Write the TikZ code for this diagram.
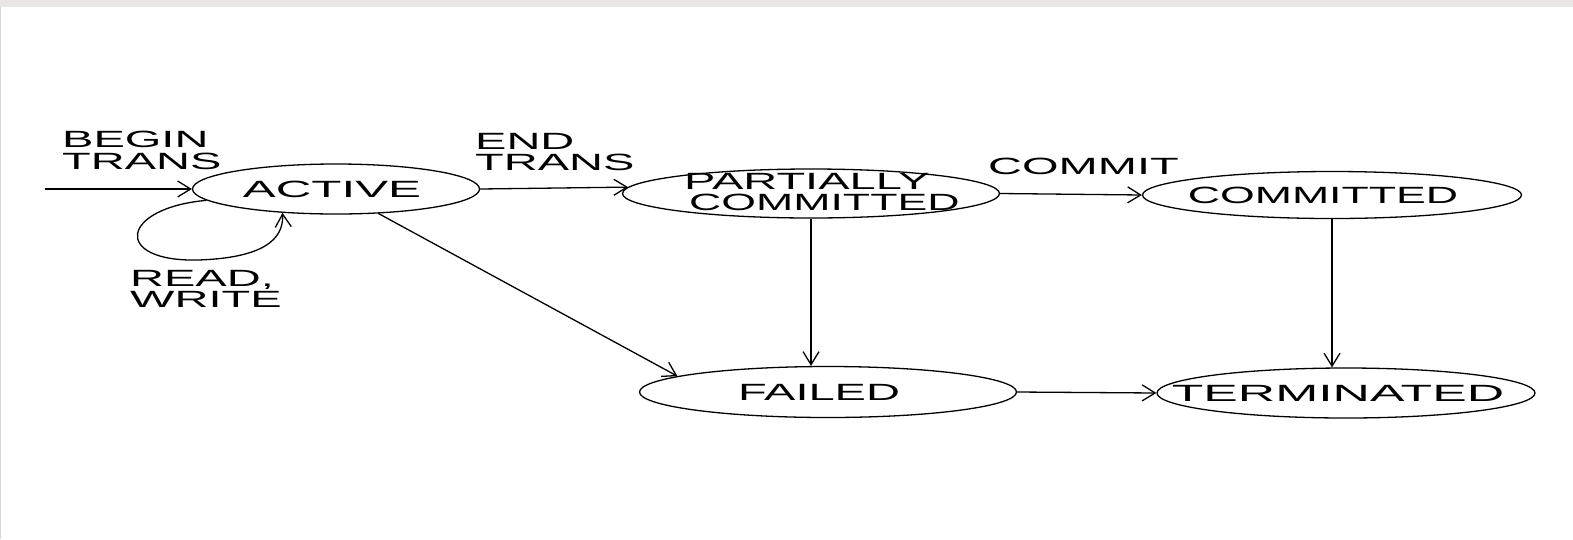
\documentclass[tikz,border=0pt]{standalone}
\usepackage{fontspec}
\newfontfamily\df[FakeStretch=2.0]{Liberation Sans}
\usetikzlibrary{arrows.meta,shapes.geometric}
\definecolor{band}{HTML}{EBE6E1}
\begin{document}
\begin{tikzpicture}[x=1pt,y=-1pt,
  st/.style={draw,ellipse,line width=1.3pt,inner sep=0pt},
  txt/.style={inner sep=0pt,font=\df\fontsize{23.5}{21.5}\selectfont},
  lbl/.style={inner sep=0pt,anchor=north west,align=left,font=\df\fontsize{23.5}{21.5}\selectfont},
  conn/.style={line width=1.3pt,-{Straight Barb[length=13pt,width=16pt,line width=1.3pt]}}]
\useasboundingbox (0,0) rectangle (1573,539);
\fill[band] (0,0) rectangle (1573,7);
\draw[black!15,line width=1pt] (0.5,7) -- (0.5,539);
% states
\node[st,minimum width=287pt,minimum height=50pt] (active) at (336,189) {};
\node[st,minimum width=377pt,minimum height=49pt] (partial) at (811,193.5) {};
\node[st,minimum width=379pt,minimum height=47pt] (committed) at (1332,195) {};
\node[st,minimum width=377pt,minimum height=51pt] (failed) at (828,392) {};
\node[st,minimum width=378pt,minimum height=50pt] (terminated) at (1346,393) {};
% state texts
\node[txt] (tactive) at (332,189) {\scalebox{1.05}[1]{ACTIVE}};
\node[lbl] (tpartial) at (684,173) {PARTIALLY\\\hspace{5pt}\scalebox{0.95}[1]{COMMITTED}};
\node[txt] (tcommitted) at (1323,195) {\scalebox{0.95}[1]{COMMITTED}};
\node[txt] (tfailed) at (819,392) {FAILED};
\node[txt] (tterminated) at (1338,393) {\scalebox{1.1}[1]{TERMINATED}};
% labels
\node[lbl] (lbegin) at (62,131) {BEGIN\\TRANS};
\node[lbl] (lend) at (475,133) {END\\TRANS};
\node[lbl] (lread) at (130,270) {READ,\\WRITE};
\node[lbl] (lcommit) at (988,158) {COMMIT};
% connectors
\coordinate (start) at (45,189);
\draw[conn] (start) -- (active.west);
\draw[conn] (active.185) .. controls (120,208) and (112,262) .. (198,260)
  .. controls (262,258) and (284,240) .. (active.204);
\draw[conn] (active.east) -- (partial.178.6);
\draw[conn] (partial.east) -- (committed.west);
\draw[conn] (partial.south) -- (partial.south |- failed.north);
\draw[conn] (committed.south) -- (committed.south |- terminated.north);
\draw[conn] (active.330) -- (failed.174);
\draw[conn] (failed.east) -- (terminated.west);
\end{tikzpicture}
\end{document}
